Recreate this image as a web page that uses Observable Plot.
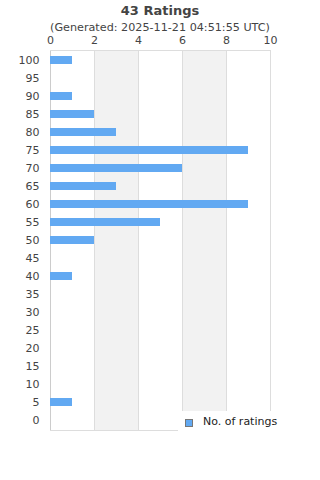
<!DOCTYPE html>
<html>
<head>
<meta charset="utf-8">
<script src="https://cdn.jsdelivr.net/npm/d3@7"></script>
<script src="https://cdn.jsdelivr.net/npm/@observablehq/plot@0.6"></script>
<style>
  html, body { margin: 0; padding: 0; background: #fff; }
  #wrap { position: relative; width: 320px; height: 480px; font-family: "DejaVu Sans", sans-serif; }
  #title { position: absolute; left: 0; width: 320px; top: 3px; text-align: center; font-size: 13px; font-weight: bold; color: #444; }
  #subtitle { position: absolute; left: 0; width: 320px; top: 21px; text-align: center; font-size: 11.2px; color: #444; }
  #legend { position: absolute; left: 178px; top: 411px; width: 142px; height: 21px; background: #fff; font-size: 11px; color: #222; }
  #legend .sw { position: absolute; left: 7px; top: 8px; width: 6px; height: 6px; background: #62a9f2; border: 1px solid #777; }
  #legend .lb { position: absolute; left: 25px; top: 4px; }
</style>
</head>
<body>
<div id="wrap">
  <div id="chart"></div>
  <div id="title">43 Ratings</div>
  <div id="subtitle">(Generated: 2025-11-21 04:51:55 UTC)</div>
  <div id="legend"><div class="sw"></div><div class="lb">No. of ratings</div></div>
</div>
<script>
const categories = ["100","95","90","85","80","75","70","65","60","55","50","45","40","35","30","25","20","15","10","5","0"];
const counts =     [1, 0, 1, 2, 3, 9, 6, 3, 9, 5, 2, 0, 1, 0, 0, 0, 0, 0, 0, 1, 0];
const xTicks = [0, 2, 4, 6, 8, 10];
const bandStarts = [2, 6];
const bandEnds = [4, 8];
const seriesName = "No. of ratings";

const data = categories.map((c, i) => ({category: c, count: counts[i]}));
const bands = bandStarts.map((s, i) => ({x1: s, x2: bandEnds[i]}));

const chart = Plot.plot({
  width: 320,
  height: 480,
  marginTop: 50,
  marginBottom: 50,
  marginLeft: 50,
  marginRight: 50,
  style: {fontFamily: "DejaVu Sans, sans-serif", fontSize: "11px", color: "#444", background: "#fff"},
  x: {domain: [0, 10], axis: null},
  y: {domain: categories, axis: null, paddingInner: 0.56, paddingOuter: 0.28},
  marks: [
    Plot.rect(bands, {x1: "x1", x2: "x2", fill: "#f2f2f2"}),
    Plot.ruleX(xTicks.filter(d => d > 0), {stroke: "#dddddd", strokeWidth: 1}),
    Plot.ruleX([0], {stroke: "#cccccc", strokeWidth: 1}),
    Plot.frame({anchor: "top", stroke: "#dddddd"}),
    Plot.frame({anchor: "bottom", stroke: "#dddddd"}),
    Plot.barX(data, {x: "count", y: "category", fill: "#62a9f2"}),
    Plot.axisX(xTicks, {anchor: "top", tickSize: 0, tickPadding: 7, fontSize: 11, color: "#444", label: null}),
    Plot.axisY(categories, {anchor: "left", tickSize: 0, tickPadding: 11, fontSize: 11, color: "#444", label: null})
  ]
});
document.getElementById("chart").appendChild(chart);
</script>
</body>
</html>
